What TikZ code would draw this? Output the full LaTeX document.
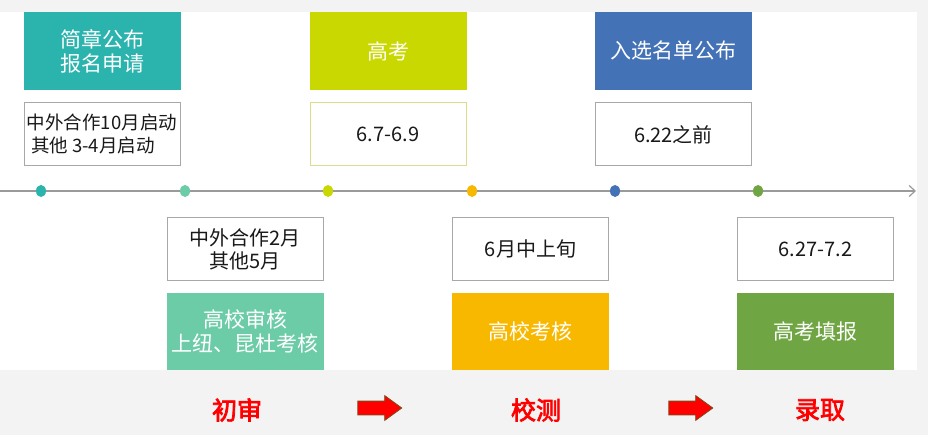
\documentclass[tikz,border=0pt]{standalone}
\usepackage{fontspec}
\newfontfamily\cjk{Noto Sans CJK SC}
\newfontfamily\cjkbold[FakeBold=3]{Noto Sans CJK SC}
\usetikzlibrary{arrows.meta,shapes.arrows,shapes.geometric}
\definecolor{cTeal}{HTML}{2BB3AE}
\definecolor{cLime}{HTML}{C9D800}
\definecolor{cBlue}{HTML}{4472B6}
\definecolor{cMint}{HTML}{6CCCA8}
\definecolor{cOrange}{HTML}{F8B800}
\definecolor{cGreen}{HTML}{6FA542}
\definecolor{cBand}{HTML}{F3F3F3}
\definecolor{cLine}{HTML}{9A9A9A}
\definecolor{cBorder}{HTML}{A8A8A8}
\definecolor{cYBorder}{HTML}{DCDC8C}
\definecolor{cArrowEdge}{HTML}{7A4A1A}
\tikzset{
  colbox/.style={rectangle, inner sep=0pt, outer sep=0pt, minimum width=157pt,
    minimum height=78pt, text=white, font=\cjk\fontsize{21}{24}\selectfont, align=center},
  datebox/.style={rectangle, draw=cBorder, line width=1pt, fill=white, inner sep=0pt, outer sep=0pt,
    minimum width=156pt, minimum height=63pt, text=black!90, font=\cjk\fontsize{20}{23}\selectfont, align=center},
  dot/.style={ellipse, inner sep=0pt, minimum width=10pt, minimum height=12pt},
  timeline/.style={draw=cLine, line width=2pt, -{Straight Barb[length=6pt,width=11pt,line width=1.2pt]}},
  stage/.style={text=red, font=\cjkbold\fontsize{25}{28}\selectfont, inner sep=0pt},
  redarrow/.style={single arrow, fill=red, draw=cArrowEdge, line width=0.8pt, inner xsep=0pt, inner ysep=6.5pt,
    minimum height=44pt, single arrow head extend=5.5pt, single arrow tip angle=72}
}
\begin{document}
\begin{tikzpicture}[x=1pt,y=-1pt]
\useasboundingbox (0,0) rectangle (928,435);
% background
\fill[cBand] (0,0) rectangle (928,435);
\fill[white] (0,12) rectangle (917,370);

% top row coloured boxes
\node[colbox, fill=cTeal] (a1) at (102.5,51) {简章公布\\报名申请};
\node[colbox, fill=cLime] (b1) at (388,51) {高考};
\node[colbox, fill=cBlue] (c1) at (673.5,51) {入选名单公布};

% top row date boxes
\node[datebox, align=left, font=\cjk\fontsize{18.5}{23}\selectfont] (a2) at (102,134) {中外合作10月启动\\\ 其他 3-4月启动};
\node[datebox, draw=cYBorder] (b2) at (388,134.5) {6.7-6.9};
\node[datebox] (c2) at (673.5,134.5) {6.22之前};

% timeline
\coordinate (t0) at (0,191);
\coordinate (t1) at (916,191);
\draw[timeline] (t0) -- (t1);
\node[dot, fill=cTeal]   (d1) at (41,191) {};
\node[dot, fill=cMint]   (d2) at (185,191) {};
\node[dot, fill=cLime]   (d3) at (328,191) {};
\node[dot, fill=cOrange] (d4) at (472,191) {};
\node[dot, fill=cBlue]   (d5) at (615,191) {};
\node[dot, fill=cGreen]  (d6) at (758,191) {};

% bottom row date boxes
\node[datebox] (d1b) at (245,249) {中外合作2月\\其他5月};
\node[datebox] (e1) at (530.5,249) {6月中上旬};
\node[datebox] (f1) at (815.5,249) {6.27-7.2};

% bottom row coloured boxes
\node[colbox, fill=cMint, minimum height=77pt] (d2b) at (245,331.5) {高校审核\\上纽、昆杜考核};
\node[colbox, fill=cOrange, minimum height=77pt] (e2) at (530.5,331.5) {高校考核};
\node[colbox, fill=cGreen, minimum height=77pt] (f2) at (815.5,331.5) {高考填报};

% stages
\node[stage] (s1) at (237,410) {初审};
\node[redarrow] (r1) at (375,408) {};
\node[stage] (s2) at (536,410) {校测};
\node[redarrow] (r2) at (686,408) {};
\node[stage] (s3) at (820,410) {录取};
\end{tikzpicture}
\end{document}
